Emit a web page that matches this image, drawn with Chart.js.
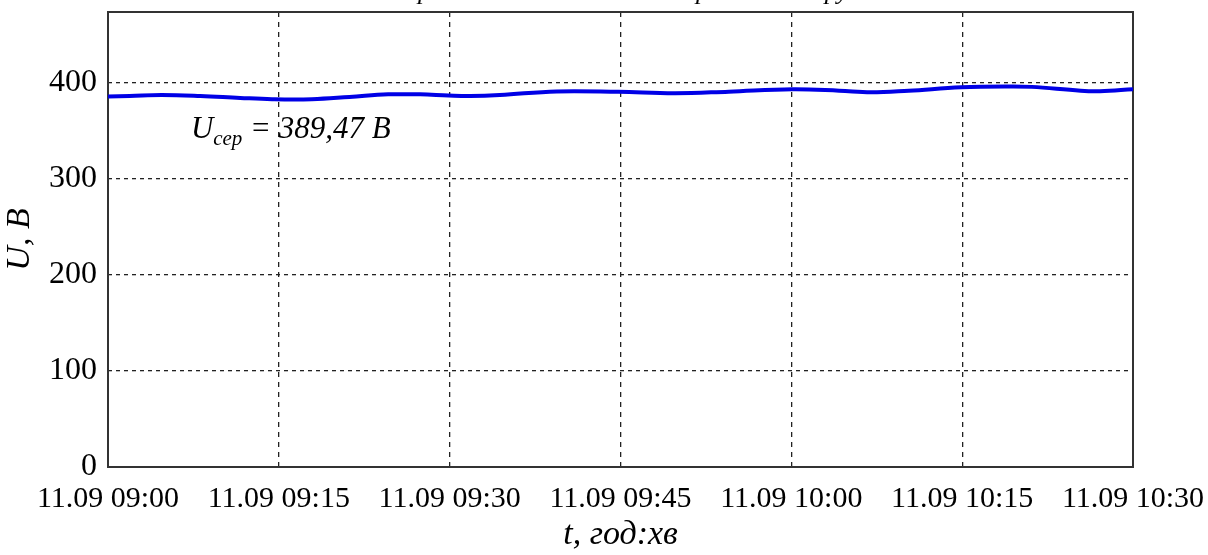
<!DOCTYPE html>
<html>
<head>
<meta charset="utf-8">
<script src="https://cdn.jsdelivr.net/npm/chart.js@4"></script>
<style>
  html, body { margin: 0; padding: 0; background: #fff; }
  #wrap { width: 1208px; height: 555px; position: relative; }
</style>
</head>
<body>
<div id="wrap"><canvas id="c"></canvas></div>
<script>
// Line voltage, 11.09, 09:00–10:30 (minutes after 09:00)
const timeMinutes = [0, 1.9, 4.7, 8.1, 11.6, 14.4, 17.9, 21.2, 24.6, 27.4, 29.9, 31.8, 34.4, 39.4, 44.8, 49.8, 54.5, 60.1, 64.2, 67.0, 70.3, 74.9, 79.2, 81.1, 85.4, 87.1, 90];
const voltage = [386, 386.5, 387.5, 386.5, 384.5, 383.2, 383.2, 385.5, 388.2, 388.2, 387, 386.5, 387.5, 391.3, 390.8, 389.3, 391, 393.5, 392, 390.3, 392, 395.5, 396.5, 396, 392, 391.5, 393.5];
const timeTickLabels = ['11.09 09:00', '11.09 09:15', '11.09 09:30', '11.09 09:45', '11.09 10:00', '11.09 10:15', '11.09 10:30'];
const voltageTicks = [0, 100, 200, 300, 400];
const meanVoltage = '389,47';
const meanLabelAt = { x: 7.46, y: 342.7 };
const chartTitle = 'Середньохвилинні значення робочої напруги';

const FONT = '"Liberation Serif", "Times New Roman", serif';

const framePlugin = {
  id: 'frame',
  beforeDatasetsDraw(chart) {
    const { ctx, chartArea: a } = chart;
    ctx.save();
    ctx.strokeStyle = '#333';
    ctx.lineWidth = 2;
    ctx.strokeRect(a.left, a.top, a.right - a.left, a.bottom - a.top);
    ctx.restore();
  }
};

const textPlugin = {
  id: 'texts',
  afterDraw(chart) {
    const { ctx, chartArea: a, scales } = chart;
    ctx.save();
    ctx.fillStyle = '#000';
    // title (sits above the canvas top edge)
    ctx.font = 'italic 26px ' + FONT;
    ctx.textAlign = 'center';
    ctx.textBaseline = 'alphabetic';
    ctx.fillText(chartTitle, (a.left + a.right) / 2 + 10, -1);
    // mean value label
    const x0 = scales.x.getPixelForValue(meanLabelAt.x) - 2;
    const y0 = scales.y.getPixelForValue(meanLabelAt.y);
    ctx.textAlign = 'left';
    ctx.font = 'italic 31px ' + FONT;
    ctx.fillText('U', x0, y0);
    let x = x0 + ctx.measureText('U').width;
    ctx.font = 'italic 21px ' + FONT;
    ctx.fillText('сер', x, y0 + 7);
    x += ctx.measureText('сер').width;
    ctx.font = 'italic 31px ' + FONT;
    ctx.fillText(' = ' + meanVoltage + ' В', x, y0);
    ctx.restore();
  }
};

new Chart(document.getElementById('c'), {
  type: 'line',
  data: {
    datasets: [{
      data: timeMinutes.map((t, i) => ({ x: t, y: voltage[i] })),
      borderColor: '#0000e6',
      borderWidth: 4,
      pointRadius: 0,
      tension: 0.4,
      fill: false
    }]
  },
  options: {
    responsive: true,
    maintainAspectRatio: false,
    animation: false,
    layout: { padding: { top: 12, right: 75, left: 0, bottom: 0 } },
    plugins: { legend: { display: false }, tooltip: { enabled: false } },
    scales: {
      x: {
        type: 'linear',
        min: 0, max: 90,
        afterFit(s) { s.height = 88; s.paddingLeft = 0; s.paddingRight = 0; },
        ticks: {
          stepSize: 15,
          padding: 14,
          color: '#000',
          maxRotation: 0,
          font: { family: FONT, size: 30 },
          callback: (v) => timeTickLabels[Math.round(v / 15)]
        },
        grid: { color: '#222', lineWidth: 1.3, drawTicks: false },
        border: { display: false, dash: [5, 5] },
        title: {
          display: true,
          text: 't, год:хв',
          color: '#000',
          padding: { top: 0, bottom: 0 },
          font: { family: FONT, size: 34, style: 'italic' }
        }
      },
      y: {
        min: 0, max: 474,
        afterFit(s) { s.width = 108; s.paddingTop = 0; s.paddingBottom = 0; },
        afterBuildTicks(s) { s.ticks = voltageTicks.map(v => ({ value: v })); },
        ticks: {
          padding: 11,
          color: '#000',
          font: { family: FONT, size: 32 }
        },
        grid: { color: '#222', lineWidth: 1.3, drawTicks: false },
        border: { display: false, dash: [4, 4] },
        title: {
          display: true,
          text: 'U, В',
          color: '#000',
          padding: { top: 0, bottom: 4 },
          font: { family: FONT, size: 34, style: 'italic' }
        }
      }
    }
  },
  plugins: [framePlugin, textPlugin]
});
</script>
</body>
</html>
